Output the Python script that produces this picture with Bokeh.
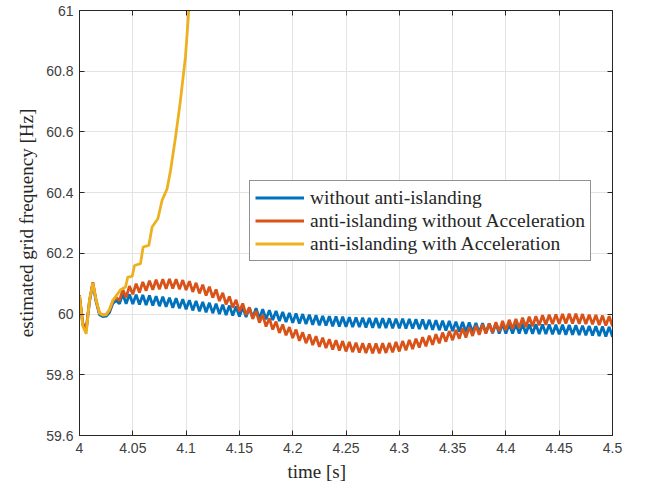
from bokeh.plotting import figure
from bokeh.models import (LinearAxis, FixedTicker, Legend, LegendItem, Range1d, Title)
from bokeh.embed import file_html
from bokeh.resources import INLINE

# ---------------- data ----------------
# common sampling step of the two rippled traces: 1/320 s starting at 4.0 s
t_start = 4.0
t_step = 1.0 / 320.0

freq_without = [
    60.055, 59.965, 59.945, 60.040, 60.100, 60.040, 59.998, 59.992, 59.993, 60.005, 60.035, 60.045,
    60.034, 60.066, 60.034, 60.065, 60.033, 60.064, 60.031, 60.063, 60.030, 60.061, 60.028, 60.059,
    60.026, 60.057, 60.024, 60.054, 60.021, 60.052, 60.019, 60.049, 60.016, 60.046, 60.012, 60.043,
    60.009, 60.040, 60.006, 60.037, 60.003, 60.034, 60.000, 60.031, 59.997, 60.028, 59.995, 60.025,
    59.992, 60.023, 59.990, 60.021, 59.988, 60.019, 59.985, 60.016, 59.983, 60.013, 59.980, 60.010,
    59.977, 60.007, 59.974, 60.004, 59.971, 60.002, 59.969, 60.000, 59.967, 59.998, 59.965, 59.996,
    59.963, 59.994, 59.962, 59.993, 59.960, 59.992, 59.959, 59.991, 59.958, 59.990, 59.957, 59.989,
    59.957, 59.988, 59.956, 59.987, 59.955, 59.987, 59.954, 59.986, 59.954, 59.986, 59.953, 59.985,
    59.953, 59.985, 59.952, 59.984, 59.952, 59.983, 59.951, 59.982, 59.950, 59.981, 59.948, 59.980,
    59.947, 59.978, 59.946, 59.977, 59.944, 59.975, 59.942, 59.974, 59.941, 59.972, 59.940, 59.971,
    59.939, 59.970, 59.938, 59.969, 59.937, 59.969, 59.936, 59.968, 59.936, 59.968, 59.936, 59.968,
    59.936, 59.968, 59.935, 59.967, 59.935, 59.967, 59.934, 59.966, 59.934, 59.966, 59.933, 59.965,
    59.933, 59.965, 59.932, 59.964, 59.932, 59.963, 59.931, 59.962, 59.930, 59.961, 59.929, 59.960,
    59.928, 59.959, 59.926, 59.958, 59.925,
]

freq_no_accel = [
    60.062, 59.970, 59.950, 60.045, 60.105, 60.045, 60.003, 59.997, 59.998, 60.012, 60.042, 60.055,
    60.044, 60.081, 60.055, 60.092, 60.065, 60.100, 60.071, 60.106, 60.077, 60.110, 60.080, 60.113,
    60.082, 60.115, 60.083, 60.116, 60.084, 60.115, 60.082, 60.112, 60.079, 60.108, 60.073, 60.103,
    60.068, 60.097, 60.061, 60.090, 60.054, 60.081, 60.043, 60.070, 60.032, 60.058, 60.021, 60.047,
    60.009, 60.035, 59.997, 60.022, 59.984, 60.010, 59.972, 59.997, 59.959, 59.986, 59.949, 59.975,
    59.938, 59.966, 59.930, 59.957, 59.921, 59.949, 59.912, 59.940, 59.904, 59.933, 59.898, 59.927,
    59.892, 59.922, 59.888, 59.917, 59.883, 59.914, 59.880, 59.911, 59.877, 59.908, 59.875, 59.906,
    59.873, 59.904, 59.872, 59.903, 59.871, 59.903, 59.871, 59.904, 59.872, 59.905, 59.874, 59.908,
    59.877, 59.911, 59.881, 59.915, 59.885, 59.919, 59.890, 59.924, 59.894, 59.929, 59.899, 59.934,
    59.904, 59.939, 59.909, 59.944, 59.914, 59.948, 59.919, 59.953, 59.923, 59.957, 59.928, 59.962,
    59.932, 59.966, 59.936, 59.969, 59.939, 59.973, 59.943, 59.977, 59.947, 59.981, 59.951, 59.984,
    59.954, 59.988, 59.957, 59.991, 59.960, 59.993, 59.963, 59.996, 59.965, 59.998, 59.967, 59.999,
    59.968, 60.000, 59.969, 60.001, 59.969, 60.001, 59.968, 60.000, 59.967, 59.998, 59.966, 59.997,
    59.964, 59.995, 59.962, 59.993, 59.960,
]

t_accel = [4.0, 4.003125, 4.00625, 4.009375, 4.0125, 4.015625, 4.01875, 4.021875,
           4.025, 4.028125, 4.03125, 4.034375,
           4.0385, 4.0432, 4.0453, 4.0494, 4.0516, 4.0572, 4.0597, 4.065, 4.0681,
           4.0735, 4.0775, 4.0822, 4.0854, 4.0901, 4.0947, 4.0994, 4.1025, 4.104]
freq_accel = [60.060, 59.960, 59.935, 60.045, 60.102, 60.045, 60.003, 59.997,
              59.998, 60.015, 60.045, 60.060,
              60.080, 60.089, 60.122, 60.124, 60.160, 60.166, 60.221, 60.226, 60.287,
              60.314, 60.375, 60.413, 60.473, 60.583, 60.704, 60.847, 61.000, 61.050]

series_labels = ["without anti-islanding",
                 "anti-islanding without Acceleration",
                 "anti-islanding with Acceleration"]
series_colors = ["#0072BD", "#D95319", "#EDB120"]

x_ticks = [4.0, 4.05, 4.1, 4.15, 4.2, 4.25, 4.3, 4.35, 4.4, 4.45, 4.5]
x_tick_labels = ["4", "4.05", "4.1", "4.15", "4.2", "4.25", "4.3", "4.35", "4.4", "4.45", "4.5"]
y_ticks = [59.6, 59.8, 60.0, 60.2, 60.4, 60.6, 60.8, 61.0]
y_tick_labels = ["59.6", "59.8", "60", "60.2", "60.4", "60.6", "60.8", "61"]
x_title = "time [s]"
y_title = "estimated grid frequency [Hz]"

t_ripple = [round(t_start + i * t_step, 6) for i in range(len(freq_without))]

# ---------------- figure ----------------
AX = "#262626"
TICK_TXT = "#404040"

p = figure(width=650, height=490, output_backend="svg", toolbar_location=None,
           x_range=Range1d(4.0, 4.5), y_range=Range1d(59.6, 61.0),
           min_border_left=79, min_border_right=38, min_border_top=10,
           min_border_bottom=55, background_fill_color="white",
           border_fill_color="white")
p.outline_line_color = AX
p.outline_line_width = 1

r1 = p.line(t_ripple, freq_without, color=series_colors[0], line_width=2.8)
r2 = p.line(t_ripple, freq_no_accel, color=series_colors[1], line_width=2.8)
r3 = p.line(t_accel, freq_accel, color=series_colors[2], line_width=2.8)

xt = FixedTicker(ticks=x_ticks, minor_ticks=[])
yt = FixedTicker(ticks=y_ticks, minor_ticks=[])

for ax in p.xaxis:
    ax.ticker = xt
    ax.major_label_overrides = {v: s for v, s in zip(x_ticks, x_tick_labels)}
for ax in p.yaxis:
    ax.ticker = yt
    ax.major_label_overrides = {v: s for v, s in zip(y_ticks, y_tick_labels)}
    ax.axis_label = y_title

for ax in list(p.xaxis) + list(p.yaxis):
    ax.axis_line_color = AX
    ax.major_tick_line_color = AX
    ax.major_tick_in = 5
    ax.major_tick_out = 0
    ax.minor_tick_line_color = None
    ax.major_label_text_font = "Liberation Sans"
    ax.major_label_text_font_size = "14px"
    ax.major_label_text_color = TICK_TXT
    ax.axis_label_text_font = "Liberation Serif"
    ax.axis_label_text_font_size = "19px"
    ax.axis_label_text_font_style = "normal"
    ax.axis_label_text_color = AX

p.xaxis.major_label_standoff = 7
p.yaxis.major_label_standoff = 6
p.yaxis.axis_label_standoff = 6

# x title, placed (as in the reference) a little left of the axis centre
p.add_layout(Title(text=x_title, align="left", offset=208, standoff=6,
                   text_font="Liberation Serif", text_font_size="19px",
                   text_font_style="normal", text_color=AX), "below")

# box-style mirror axes (ticks only, no labels)
top = LinearAxis(ticker=xt, major_label_overrides={v: "" for v in x_ticks},
                 major_tick_in=5, major_tick_out=0, axis_line_color=AX,
                 major_tick_line_color=AX, minor_tick_line_color=None,
                 major_label_standoff=0, major_label_text_color=None)
right = LinearAxis(ticker=yt, major_label_overrides={v: "" for v in y_ticks},
                   major_tick_in=5, major_tick_out=0, axis_line_color=AX,
                   major_tick_line_color=AX, minor_tick_line_color=None,
                   major_label_standoff=0, major_label_text_color=None)
p.add_layout(top, "above")
p.add_layout(right, "right")

p.xgrid.grid_line_color = "#e3e3e3"
p.ygrid.grid_line_color = "#e3e3e3"
p.xgrid.grid_line_width = 1
p.ygrid.grid_line_width = 1

legend = Legend(items=[LegendItem(label=series_labels[0], renderers=[r1]),
                       LegendItem(label=series_labels[1], renderers=[r2]),
                       LegendItem(label=series_labels[2], renderers=[r3])],
                location=(170, 174))
legend.label_text_font = "Liberation Serif"
legend.label_text_font_size = "19.5px"
legend.label_text_color = AX
legend.glyph_width = 49
legend.glyph_height = 23
legend.label_height = 23
legend.label_standoff = 6
legend.spacing = 0
legend.padding = 5
legend.margin = 0
legend.border_line_color = AX
legend.border_line_width = 1
legend.background_fill_color = "white"
legend.background_fill_alpha = 1.0
p.add_layout(legend, "center")

open("out.html", "w").write(file_html(p, INLINE))
